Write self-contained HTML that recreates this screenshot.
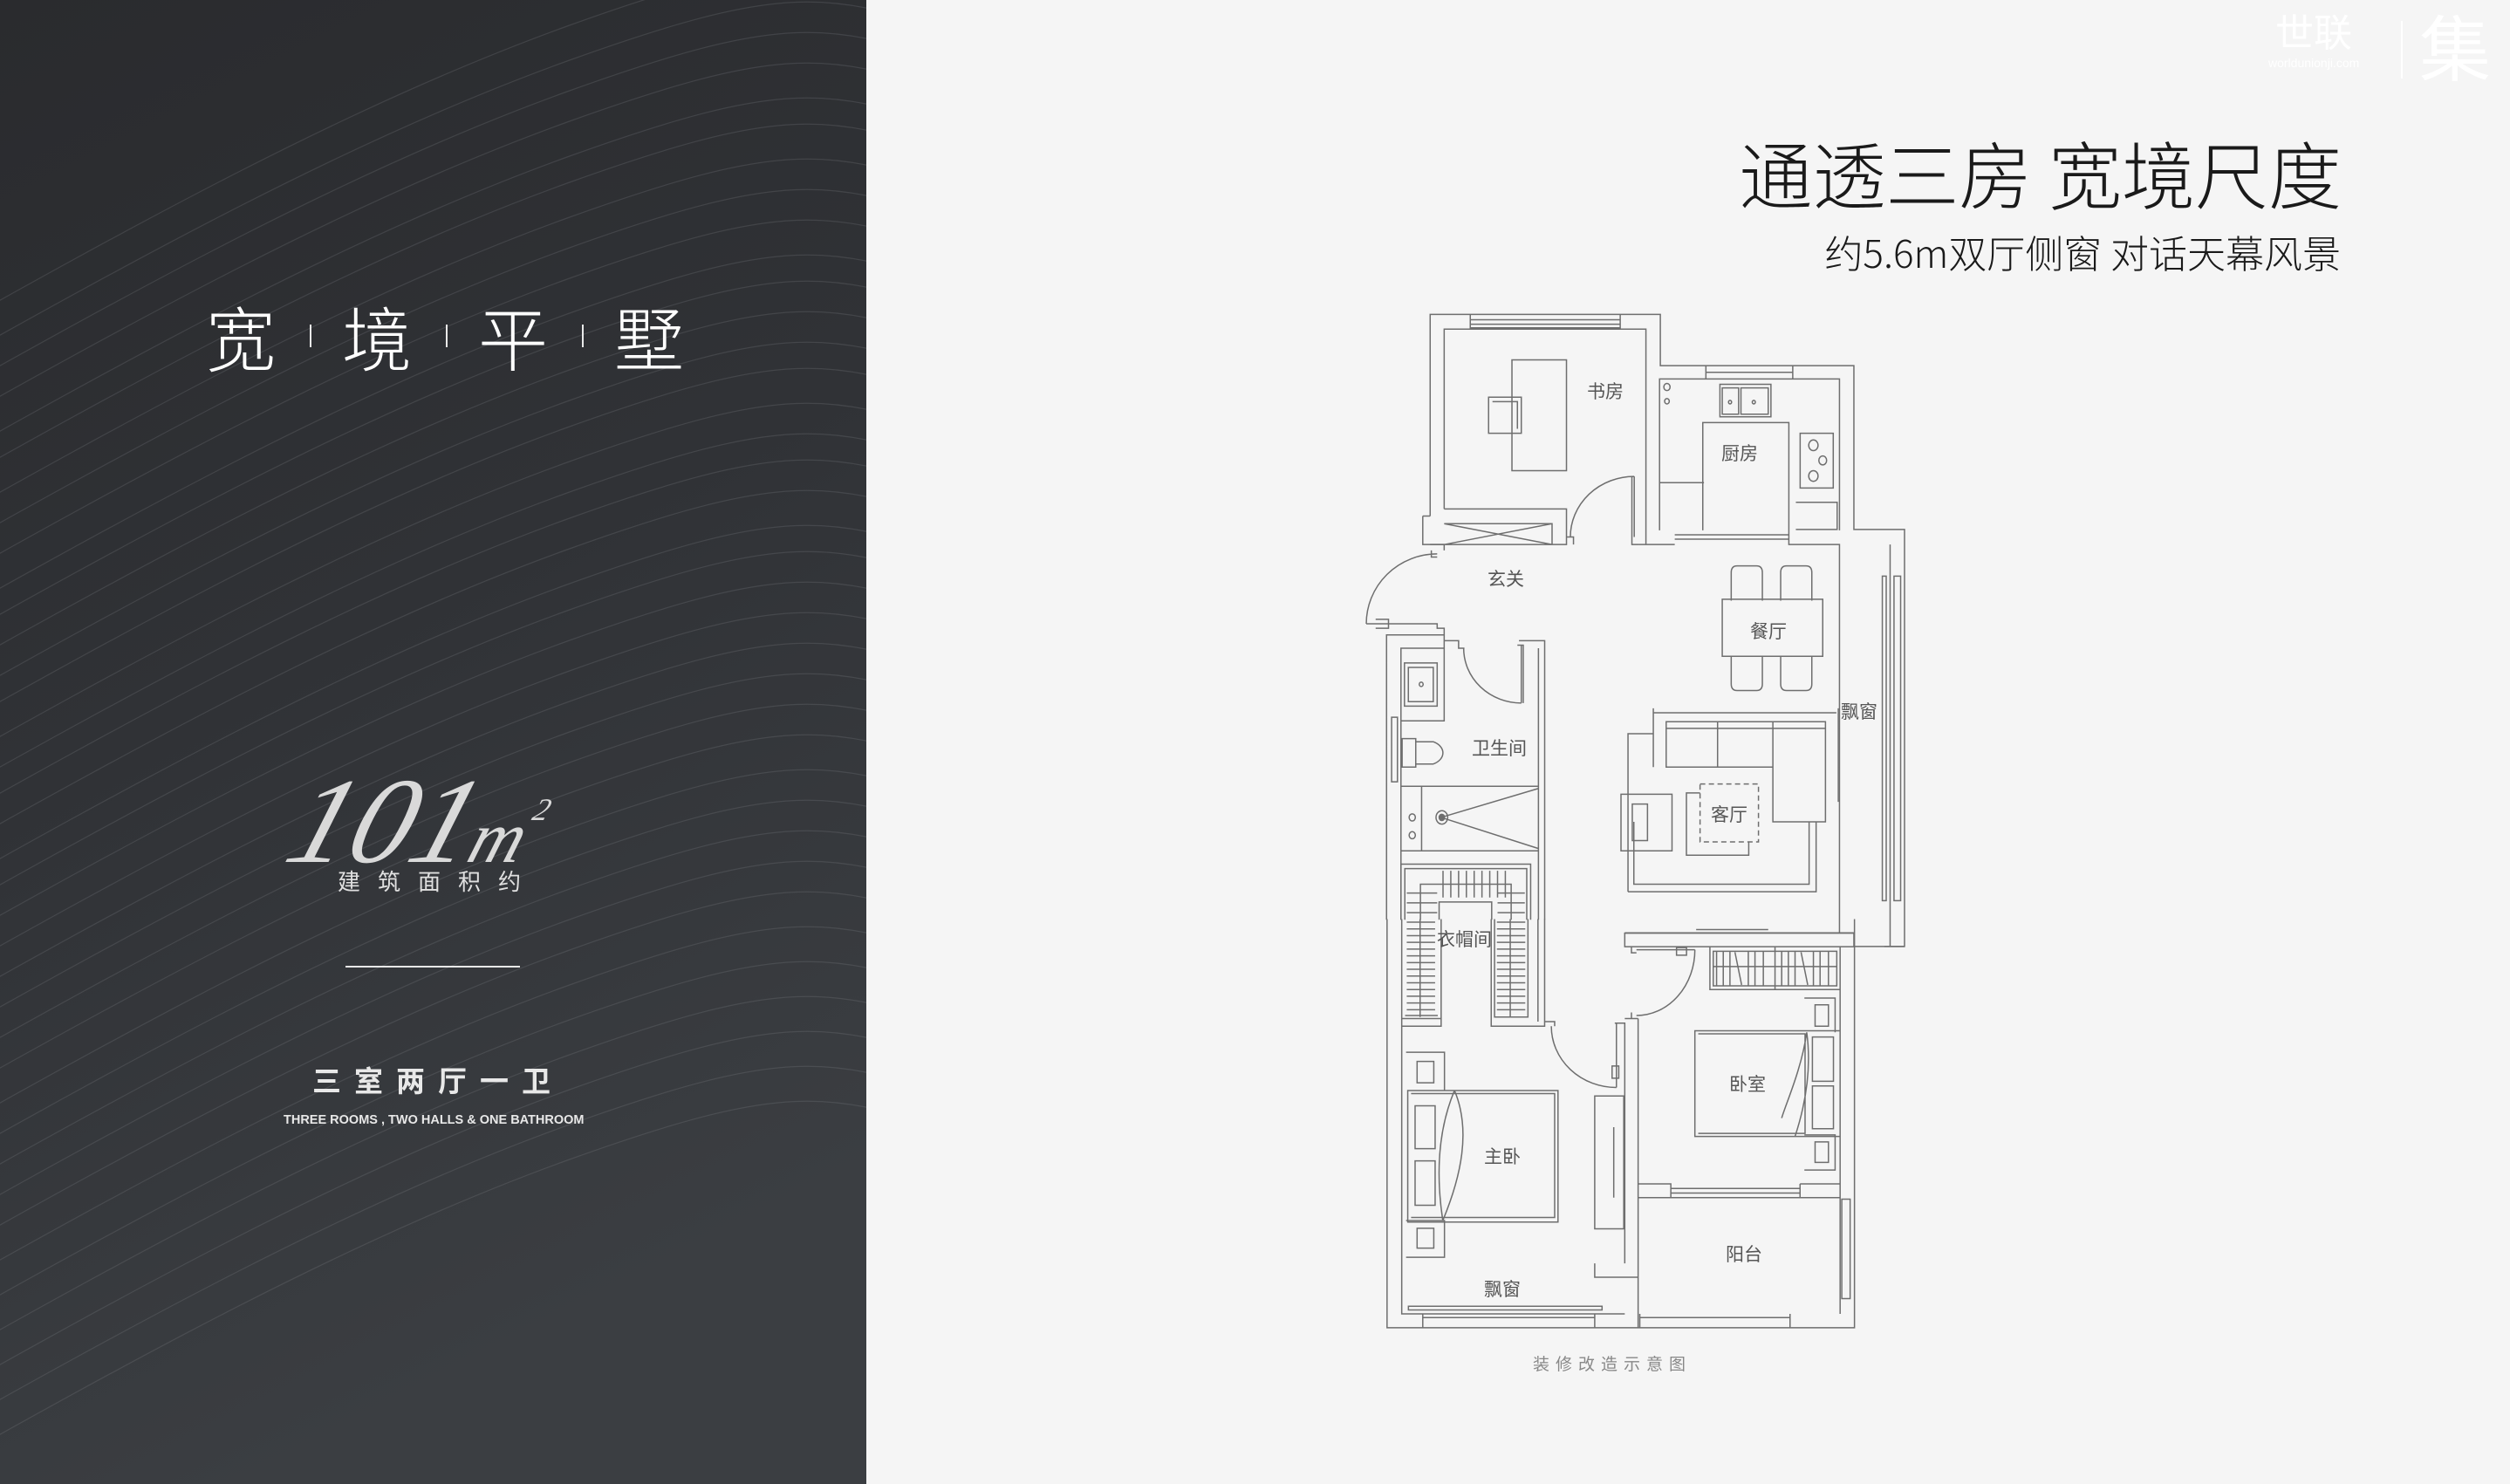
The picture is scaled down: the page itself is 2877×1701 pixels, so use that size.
<!DOCTYPE html>
<html><head><meta charset="utf-8"><style>
html,body{margin:0;padding:0}
body{width:2877px;height:1701px;position:relative;overflow:hidden;background:#f5f5f5;font-family:"Liberation Sans","Noto Sans CJK SC",sans-serif}
.t{position:absolute;white-space:nowrap}
</style></head><body>
<svg width="2877" height="1701" style="position:absolute;left:0;top:0">
<defs>
<linearGradient id="bg" x1="0" y1="0" x2="0.3" y2="1">
<stop offset="0" stop-color="#2a2b2e"/><stop offset="0.5" stop-color="#303236"/><stop offset="1" stop-color="#3b3e42"/></linearGradient>
<path id="w" d="M-100 700 C 150 560, 400 420, 650 330 S 950 250, 1100 300" fill="none" stroke="#8a8d92" stroke-width="1.2"/>
<clipPath id="lp"><rect x="0" y="0" width="993" height="1701"/></clipPath>
</defs>
<rect x="0" y="0" width="993" height="1701" fill="url(#bg)"/>
<g opacity="0.22" clip-path="url(#lp)">
<use href="#w" y="-300"/><use href="#w" y="-260"/><use href="#w" y="-225"/><use href="#w" y="-190"/><use href="#w" y="-150"/><use href="#w" y="-120"/><use href="#w" y="-80"/><use href="#w" y="-45"/><use href="#w" y="-10"/><use href="#w" y="30"/><use href="#w" y="60"/><use href="#w" y="95"/><use href="#w" y="130"/><use href="#w" y="160"/><use href="#w" y="200"/><use href="#w" y="235"/><use href="#w" y="265"/><use href="#w" y="300"/><use href="#w" y="340"/><use href="#w" y="370"/><use href="#w" y="405"/><use href="#w" y="440"/><use href="#w" y="475"/><use href="#w" y="510"/><use href="#w" y="545"/><use href="#w" y="580"/><use href="#w" y="620"/><use href="#w" y="655"/><use href="#w" y="690"/><use href="#w" y="725"/><use href="#w" y="760"/><use href="#w" y="800"/><use href="#w" y="840"/><use href="#w" y="880"/><use href="#w" y="920"/><use href="#w" y="960"/><use href="#w" y="1000"/>
</g>
<line x1="396" y1="1108" x2="596" y2="1108" stroke="#e8e8e8" stroke-width="2"/>
<g fill="#e9e9e9"><rect x="355" y="372" width="2" height="26"/><rect x="511" y="372" width="2" height="26"/><rect x="667" y="372" width="2" height="26"/></g>

<g transform="translate(1500,340) scale(0.4464,0.5102)" fill="none" stroke="#6e6e6e" stroke-width="1.5" >
<path vector-effect="non-scaling-stroke" d="M312 493 V40 H903 V155 H1400 V523 H1530 V1460 H1478 M348 477 V73 H866 V557 M415 40 V70 H800 V40 M415 52 H800 M415 62 H800 M293 493 H312 M293 493 V557 H662 V477 H348 M348 510 H625 V557 M348 510 L625 557 M348 557 L625 510 M662 540 H680 V557 M830 404 V557 H848 M836 404 V540 M836 404 A164 136 0 0 0 672 540 M522 142 H662 V391 H522 Z M462 226 H546 V307 H462 Z M472 236 H536 V297"/>
<path vector-effect="non-scaling-stroke" d="M901 525 V185 H1363 V525 M1020 155 V185 H1243 V155 M1020 170 H1243 M1056 197 H1187 V270 H1056 Z M1062 205 H1104 V264 H1062 Z M1110 205 H1180 V264 H1110 Z M1012 525 V283 H1233 V525 M901 418 H1015 M1262 307 H1347 V430 H1262 Z M1251 462 H1357 V523 H1251 M848 557 H940 M940 535 H1233 M940 545 H1233 M1233 525 V557 H1363 V1430 M1493 557 V1460 M1473 628 V1357 H1483 V628 Z M1503 628 V1357 H1520 V628 Z M1233 557 H1363"/>
<circle vector-effect="non-scaling-stroke" cx="1296" cy="334" r="12"/><circle vector-effect="non-scaling-stroke" cx="1320" cy="368" r="10"/><circle vector-effect="non-scaling-stroke" cx="1296" cy="403" r="12"/><circle vector-effect="non-scaling-stroke" cx="920" cy="203" r="8"/><circle vector-effect="non-scaling-stroke" cx="920" cy="235" r="6"/><circle vector-effect="non-scaling-stroke" cx="1082" cy="237" r="4"/><circle vector-effect="non-scaling-stroke" cx="1143" cy="237" r="4"/>
<path vector-effect="non-scaling-stroke" d="M312 557 H348 V570 M315 570 V585 H330 M330 578 A182 157 0 0 0 148 735 M148 735 H330 M172 725 H205 V745 H172 M312 735 H330 V745 H348 V773 H385 V790 H400 M200 1400 V760 H348 M237 1400 V790 H348 V773 M398 790 A148 123 0 0 0 546 913 M546 783 V913 M536 783 H551 V913 M540 773 H606 V1400 M590 790 V1400 M237 953 H348 V790 M246 823 H330 V920 H246 Z M256 833 H320 V910 H256 Z M213 945 V1090 H228 V945 Z M240 993 H275 V1057 H240 Z M275 1000 H320 A45 28 0 0 1 320 1050 H275 M237 1090 V1100 H590 M237 1245 H590 M290 1100 V1245 M340 1170 L590 1105 M340 1170 L590 1240"/>
<circle vector-effect="non-scaling-stroke" cx="342" cy="1170" r="15"/><circle vector-effect="non-scaling-stroke" cx="342" cy="1170" r="7" fill="#6e6e6e"/><circle vector-effect="non-scaling-stroke" cx="266" cy="1170" r="8"/><circle vector-effect="non-scaling-stroke" cx="266" cy="1210" r="8"/><circle vector-effect="non-scaling-stroke" cx="289" cy="871" r="5"/>
<path vector-effect="non-scaling-stroke" d="M237 1400 V1275 H570 V1400 M247 1400 V1285 H560 V1400 M287 1400 V1320 H520 V1400 M335 1400 V1360 H470 V1400 M345 1290 V1350 M365 1290 V1350 M385 1290 V1350 M405 1290 V1350 M425 1290 V1350 M445 1290 V1350 M465 1290 V1350 M485 1290 V1350 M505 1290 V1350 M252 1340 H330 M252 1362 H330 M252 1384 H330 M485 1340 H555 M485 1362 H555 M485 1384 H555"/>
<path vector-effect="non-scaling-stroke" d="M1062 680 H1320 V808 H1062 Z M1085 683 V620 Q1085 605 1100 605 H1150 Q1165 605 1165 620 V683 M1212 683 V620 Q1212 605 1227 605 H1277 Q1292 605 1292 620 V683 M1085 808 V870 Q1085 885 1100 885 H1150 Q1165 885 1165 870 V808 M1212 808 V870 Q1212 885 1227 885 H1277 Q1292 885 1292 870 V808"/>
<path vector-effect="non-scaling-stroke" d="M885 935 H1355 M885 925 V1057 M1360 925 V1135 M918 955 H1327 V1180 H1192 V1057 H918 Z M1050 955 V1057 M1192 955 V1057 M918 970 H1327 M802 1118 H933 V1245 H802 Z M831 1140 H870 V1222 H831 Z M970 1115 H1130 V1255 H970 Z M820 1337 V982 H885 M835 1180 V1320 H1285 V1180 M1303 1180 V1337 H820"/>
<rect vector-effect="non-scaling-stroke" x="1005" y="1095" width="150" height="130" stroke-dasharray="6 4" fill="#f5f5f5"/>
<path vector-effect="non-scaling-stroke" d="M810 1430 H1400 V1460 M1400 1460 H1530 M995 1422 H1180"/>
</g>

<g transform="translate(1560,1050) scale(0.3827,0.3508)" fill="none" stroke="#6e6e6e" stroke-width="1.5">
<path vector-effect="non-scaling-stroke" d="M78 10 V1345 H1478 V10 M122 10 V1300 H790 M122 335 H240 V10 M132 325 H230 M177 10 V330 M390 10 V360 H550 V10 M400 10 V330 H500 V10 M447 10 V330 M530 10 V345 M122 360 H240 V335"/>
<path vector-effect="non-scaling-stroke" d="M137 20 H222 M137 42 H222 M137 64 H222 M137 86 H222 M137 108 H222 M137 130 H222 M137 152 H222 M137 174 H222 M137 196 H222 M137 218 H222 M137 240 H222 M137 262 H222 M137 284 H222 M137 306 H222 M407 20 H492 M407 42 H492 M407 64 H492 M407 86 H492 M407 108 H492 M407 130 H492 M407 152 H492 M407 174 H492 M407 196 H492 M407 218 H492 M407 240 H492 M407 262 H492 M407 284 H492 M407 306 H492"/>
<path vector-effect="non-scaling-stroke" d="M550 345 H580 V360 M570 360 A195 200 0 0 0 765 560 M765 350 V560 M752 490 H772 V530 H752 Z M760 350 H790 V1135 M830 335 V1345 M790 335 H830 M140 570 H590 V1000 H140 Z M150 580 H580 V985 H150 M162 620 H222 V760 H162 Z M162 800 H222 V945 H162 Z M280 570 C 230 700, 225 850, 245 995 M280 570 C 330 700, 300 850, 245 995 M135 445 H250 V570 M135 995 H250 V1115 H135 M168 475 H218 V545 H168 Z M168 1020 H218 V1085 H168 Z M700 588 H787 V1022 H700 Z M757 690 V920 M700 1135 V1180 H830 M142 1275 H722 V1287 H142 Z M185 1300 V1345 M700 1300 V1345 M185 1312 H700"/>
<path vector-effect="non-scaling-stroke" d="M790 55 H1478 M790 55 V100 H1478 M810 100 V120 H825 M825 110 H1000 M945 103 H975 V128 H945 Z M1000 110 A175 215 0 0 1 825 325 M810 315 V335 M1045 100 H1435 V240 H1045 Z M1055 115 H1425 V228 H1055 Z M1240 100 V240 M1055 165 H1425 M1435 100 V1300 M1000 375 H1435 V720 H1000 Z M1010 385 H1330 V710 H1010 M1352 395 H1415 V540 H1352 Z M1352 555 H1415 V695 H1352 Z M1335 380 C 1350 500, 1330 620, 1300 720 M1335 380 C 1320 500, 1270 620, 1260 660 M1328 268 H1420 V380 M1328 715 H1420 V830 H1328 M1360 290 H1400 V360 H1360 Z M1360 738 H1400 V805 H1360 Z M830 875 H928 V920 M928 890 H1315 M928 905 H1315 M1315 875 H1435 M1315 875 V920 M830 920 H1435 M1440 925 V1250 H1465 V925 Z M835 1300 V1345 M1285 1300 V1345 M835 1312 H1285"/>
<path vector-effect="non-scaling-stroke" d="M1065 115 V228 M1085 115 V228 M1105 115 V228 M1160 115 V228 M1180 115 V228 M1205 115 V228 M1260 115 V228 M1280 115 V228 M1300 115 V228 M1355 115 V228 M1375 115 V228 M1400 115 V228 M1120 118 L1140 225 M1318 118 L1338 225"/>
</g>
</svg>

<div class="t" style="left:236px;top:340px;font-size:80px;line-height:90px;color:#fff;font-family:'Noto Sans CJK SC',sans-serif;font-weight:300;letter-spacing:76px">宽境平墅</div>
<div class="t" style="left:305px;top:848px;font-size:140px;line-height:160px;color:#d9d9d9;font-family:'Liberation Serif',serif;font-style:italic;letter-spacing:0px;transform:skewX(-18deg);transform-origin:0 100%">101<span style="font-size:84px;letter-spacing:0">m</span><span style="font-size:36px;vertical-align:48px;letter-spacing:0">2</span></div>
<div class="t" style="left:387px;top:994px;font-size:26px;line-height:34px;color:#e0e0e0;letter-spacing:20px">建筑面积约</div>
<div class="t" style="left:358px;top:1220px;font-size:33px;line-height:40px;color:#e8e8e8;font-weight:bold;letter-spacing:15px">三室两厅一卫</div>
<div class="t" style="left:325px;top:1274px;font-size:14.5px;line-height:20px;color:#e8e8e8;font-weight:bold">THREE ROOMS , TWO HALLS &amp; ONE BATHROOM</div>

<div class="t" style="right:193px;top:150px;font-size:84px;line-height:96px;color:#1a1a1a;font-family:'Noto Sans CJK SC',sans-serif;font-weight:300">通透三房 宽境尺度</div>
<div class="t" style="right:194px;top:261px;font-size:44px;line-height:55px;color:#1a1a1a;font-family:'Noto Sans CJK SC',sans-serif;font-weight:300">约5.6m双厅侧窗 对话天幕风景</div>
<div class="t" style="left:1757px;top:1552px;font-size:19px;line-height:26px;color:#888;letter-spacing:7px">装修改造示意图</div>

<div class="t" style="left:2608px;top:14px;font-size:44px;line-height:50px;color:#fff">世联</div>
<div class="t" style="left:2600px;top:64px;font-size:14px;line-height:16px;color:#fff">worldunionji.com</div>
<div style="position:absolute;left:2752px;top:24px;width:2px;height:66px;background:#fff"></div>
<div class="t" style="left:2773px;top:14px;font-size:82px;line-height:90px;color:#fff">集</div>

<div style="font-size:21px;color:#555;font-family:'Noto Sans CJK SC',sans-serif">
<div class="t" style="left:1819px;top:433px">书房</div>
<div class="t" style="left:1973px;top:504px">厨房</div>
<div class="t" style="left:1705px;top:648px">玄关</div>
<div class="t" style="left:2006px;top:708px">餐厅</div>
<div class="t" style="left:2110px;top:800px">飘窗</div>
<div class="t" style="left:1687px;top:842px">卫生间</div>
<div class="t" style="left:1961px;top:918px">客厅</div>
<div class="t" style="left:1647px;top:1061px">衣帽间</div>
<div class="t" style="left:1701px;top:1310px">主卧</div>
<div class="t" style="left:1701px;top:1462px">飘窗</div>
<div class="t" style="left:1982px;top:1227px">卧室</div>
<div class="t" style="left:1978px;top:1422px">阳台</div>
</div>
</body></html>
